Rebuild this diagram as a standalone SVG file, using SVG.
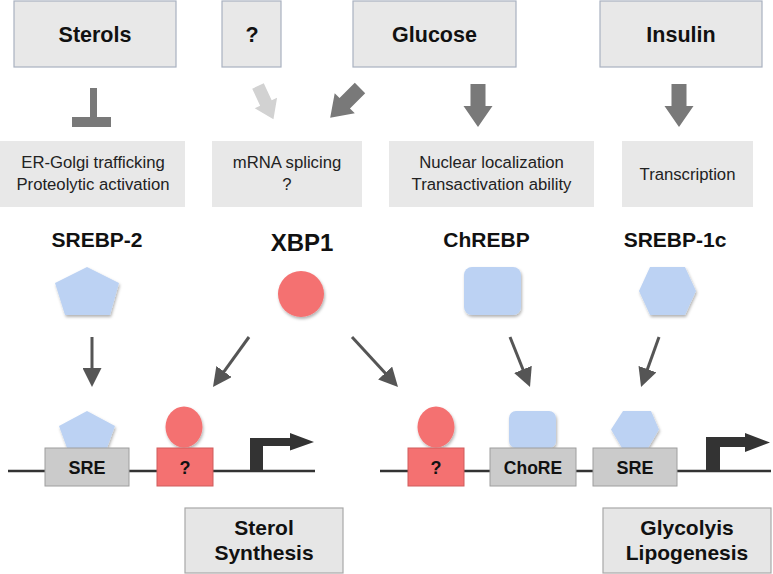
<svg xmlns="http://www.w3.org/2000/svg" width="773" height="574" viewBox="0 0 773 574">
<defs>
<style>
.top{fill:#e8e8e8;stroke:#a9b1c0;stroke-width:1.2}
.mid{fill:#e8e8e8}
.out{fill:#e6e6e6;stroke:#a8a8a8;stroke-width:1.2}
.el{fill:#cbcbcb;stroke:#9e9e9e;stroke-width:1}
.red{fill:#f47171}
.redbox{fill:#f47171;stroke:#cf5d5d;stroke-width:1}
.blue{fill:#bcd2f3}
.tb{font-family:"Liberation Sans",Arial,sans-serif;font-weight:bold;fill:#111;text-anchor:middle}
.tr{font-family:"Liberation Sans",Arial,sans-serif;fill:#222;text-anchor:middle;font-size:16.7px}
.thin{stroke:#555;stroke-width:3;fill:none;marker-end:url(#ah)}
.dna{stroke:#333;stroke-width:2.3;fill:none}
.blk{fill:#797979}
</style>
<marker id="ah" markerUnits="userSpaceOnUse" markerWidth="20" markerHeight="19" refX="2" refY="9.5" orient="auto" viewBox="0 0 20 19">
<path d="M0,0 L19,9.5 L0,19 Z" fill="#555"/>
</marker>
<filter id="sh" x="-20%" y="-20%" width="150%" height="150%">
<feDropShadow dx="1" dy="2" stdDeviation="1.5" flood-color="#000" flood-opacity="0.3"/>
</filter>
<path id="barrow" d="M-7.5,0 H7.5 V22 H14.5 L0,43 L-14.5,22 H-7.5 Z"/>
</defs>

<g id="sterols"><rect class="top" x="14" y="1" width="162" height="66"/><text class="tb" x="95" y="42" font-size="21.5">Sterols</text></g>
<g id="unknown"><rect class="top" x="222" y="1" width="59" height="66"/><text class="tb" x="252" y="42" font-size="21.5">?</text></g>
<g id="glucose"><rect class="top" x="353" y="1" width="163" height="66"/><text class="tb" x="434.5" y="42" font-size="21.5">Glucose</text></g>
<g id="insulin"><rect class="top" x="600" y="1" width="162" height="66"/><text class="tb" x="681" y="42" font-size="21.5">Insulin</text></g>

<g id="connectors">
<g id="top-arrows">
<path class="blk" d="M90,88 H97 V117 H111 V127 H72 V117 H90 Z"/>
<use href="#barrow" fill="#d2d2d2" transform="translate(258,86) rotate(-25) scale(0.85)"/>
<use href="#barrow" class="blk" transform="translate(360,88) rotate(45) scale(0.98)"/>
<use href="#barrow" class="blk" transform="translate(478,84)"/>
<use href="#barrow" class="blk" transform="translate(679,84)"/>
</g>
<line class="thin" x1="92" y1="337" x2="92" y2="370"/>
<line class="thin" x1="249" y1="337" x2="222.9" y2="373.2"/>
<line class="thin" x1="352" y1="337" x2="386.5" y2="374.5"/>
<line class="thin" x1="510" y1="337" x2="523.7" y2="371.2"/>
<line class="thin" x1="659" y1="337" x2="646.8" y2="371"/>
</g>

<g id="er-golgi"><rect class="mid" x="0" y="141" width="185" height="66"/><text class="tr" x="93" y="168">ER-Golgi trafficking</text><text class="tr" x="93" y="190">Proteolytic activation</text></g>
<g id="mrna"><rect class="mid" x="212" y="141" width="150" height="66"/><text class="tr" x="287" y="168">mRNA splicing</text><text class="tr" x="287" y="190">?</text></g>
<g id="nuclear"><rect class="mid" x="389" y="141" width="205" height="66"/><text class="tr" x="491.5" y="168">Nuclear localization</text><text class="tr" x="491.5" y="190">Transactivation ability</text></g>
<g id="transcription"><rect class="mid" x="622" y="141" width="131" height="66"/><text class="tr" x="687.5" y="180">Transcription</text></g>

<g id="srebp2"><text class="tb" x="97" y="247" font-size="21">SREBP-2</text><polygon class="blue" filter="url(#sh)" points="87,267 119,283 110,315 65,315 55,283"/></g>
<g id="xbp1"><text class="tb" x="302" y="251" font-size="24">XBP1</text><circle class="red" filter="url(#sh)" cx="301" cy="294" r="23"/></g>
<g id="chrebp"><text class="tb" x="486.5" y="247" font-size="21">ChREBP</text><rect class="blue" filter="url(#sh)" x="464" y="267" width="57" height="48" rx="8"/></g>
<g id="srebp1c"><text class="tb" x="675" y="247" font-size="21">SREBP-1c</text><polygon class="blue" filter="url(#sh)" points="639,291 650,267 685,267 696,291 685,315 650,315"/></g>

<g id="dna-left">
<line class="dna" x1="8" y1="471" x2="315" y2="471"/>
<polygon class="blue" filter="url(#sh)" points="87,411 115,426 107,448 67,448 59,426"/>
<rect class="el" x="45" y="448" width="84" height="38"/>
<text class="tb" x="87" y="473.5" font-size="18">SRE</text>
<ellipse class="red" filter="url(#sh)" cx="184" cy="427" rx="18.5" ry="20.5"/>
<rect class="redbox" x="157" y="448" width="56" height="38"/>
<text class="tb" x="185" y="473.5" font-size="18">?</text>
<path fill="#333" d="M250,471 V438 H290 V433 L314,442 L290,450.5 V446 H263 V471 Z"/>
</g>

<g id="dna-right">
<line class="dna" x1="380" y1="471" x2="771" y2="471"/>
<ellipse class="red" filter="url(#sh)" cx="436" cy="427" rx="18.5" ry="20.5"/>
<rect class="redbox" x="408" y="448" width="56" height="38"/>
<text class="tb" x="436" y="473.5" font-size="18">?</text>
<rect class="blue" filter="url(#sh)" x="509" y="411" width="47" height="37" rx="7"/>
<rect class="el" x="490" y="448" width="86" height="38"/>
<text class="tb" x="533" y="473.5" font-size="17.5">ChoRE</text>
<polygon class="blue" filter="url(#sh)" points="611,429.5 623,411 651,411 659,429.5 648,448 622,448"/>
<rect class="el" x="593" y="448" width="84" height="38"/>
<text class="tb" x="635" y="473.5" font-size="18">SRE</text>
<path fill="#333" d="M706,471 V437 H745 V433 L770,442.5 L745,452 V447 H720 V471 Z"/>
</g>

<g id="sterol-synthesis"><rect class="out" x="185" y="508" width="158" height="65"/><text class="tb" x="264" y="535" font-size="21">Sterol</text><text class="tb" x="264" y="560" font-size="21">Synthesis</text></g>
<g id="glycolysis"><rect class="out" x="603" y="508" width="168" height="65"/><text class="tb" x="687" y="535" font-size="21">Glycolyis</text><text class="tb" x="687" y="560" font-size="21">Lipogenesis</text></g>
</svg>
